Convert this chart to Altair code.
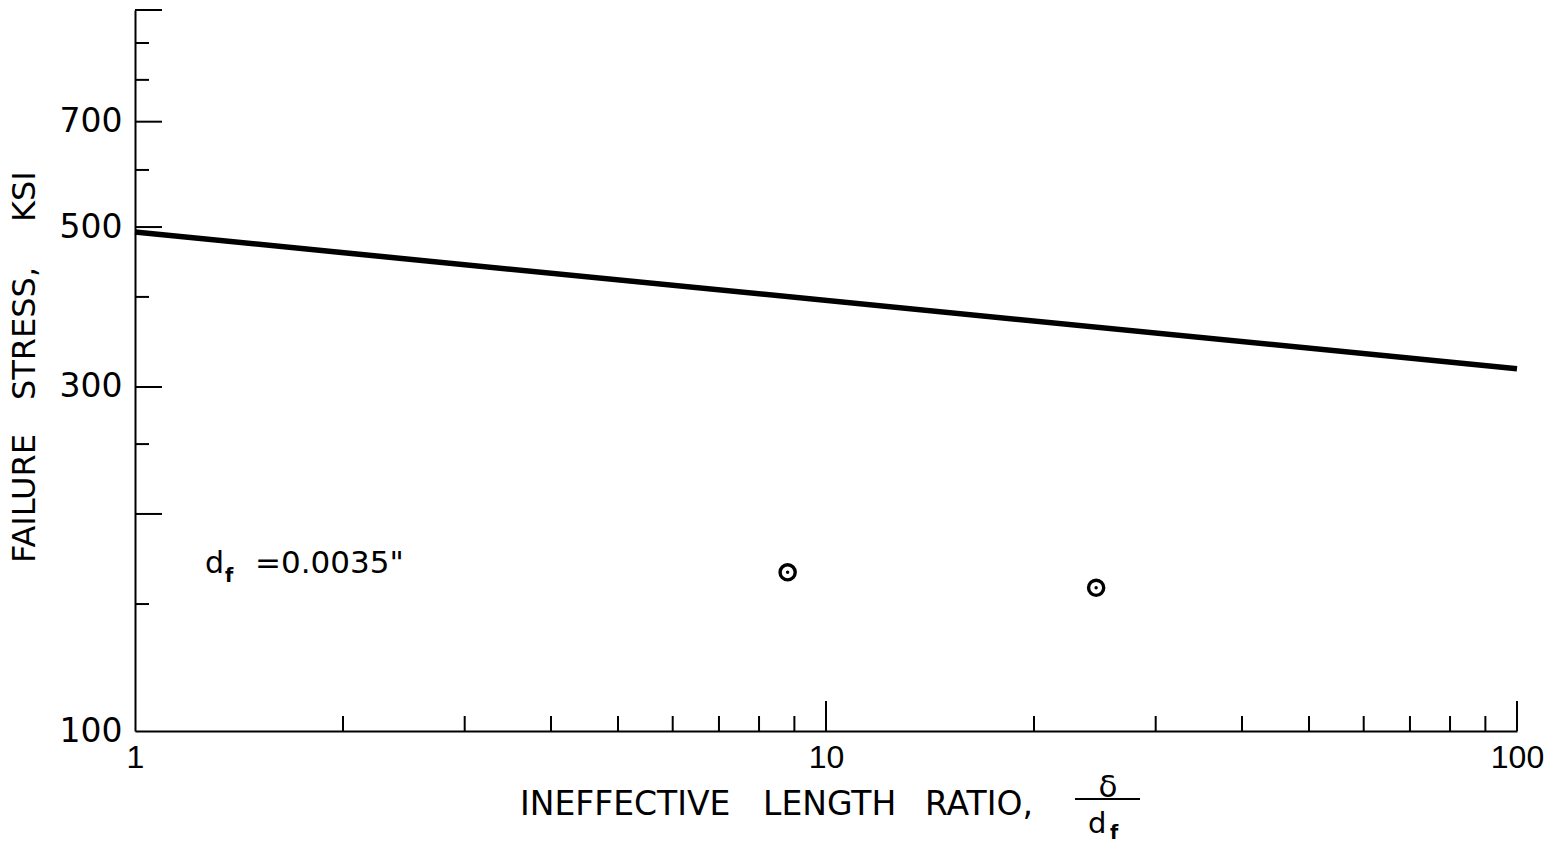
import altair as alt
import pandas as pd

# Failure stress (ksi) curve against ineffective length ratio delta/d_f
LINE_RATIO = [1, 100]
LINE_STRESS = [492, 318]

# Test specimens, d_f = 0.0035 in
POINT_RATIO = [8.8, 24.6]
POINT_STRESS = [166, 158]

# Tick values on the two log axes
X_LABELS = [1, 10, 100]
X_MAJOR_TICKS = [10, 100]
X_MINOR_TICKS = [2, 3, 4, 5, 6, 7, 8, 9, 20, 30, 40, 50, 60, 70, 80, 90]
Y_LABELS = [100, 300, 500, 700]
Y_MAJOR_TICKS = [200, 300, 500, 700, 1000]
Y_MINOR_TICKS = [150, 250, 400, 600, 800, 900]

# Text
X_TITLE_WORDS = ["INEFFECTIVE", "LENGTH", "RATIO,"]
Y_TITLE_WORDS = ["FAILURE", "STRESS,", "KSI"]
FRACTION = ["\u03b4", "d", "f"]
NOTE = ["d", "f", "=0.0035\""]

W, H = 1382, 721
INK = "black"
FONT = "DejaVu Sans"

xscale = alt.Scale(type="log", domain=[1, 100], nice=False)
yscale = alt.Scale(type="log", domain=[100, 1000], nice=False)

x_enc = alt.X(
    "ratio:Q",
    scale=xscale,
    axis=alt.Axis(
        values=X_LABELS, format="d", title=None, grid=False,
        ticks=False, tickSize=0, labelFlush=False,
        domainColor=INK, domainWidth=2,
        labelFont="Liberation Sans", labelFontSize=32,
        labelColor=INK, labelPadding=11,
    ),
)
y_enc = alt.Y(
    "stress:Q",
    scale=yscale,
    axis=alt.Axis(
        values=Y_LABELS, format="d", title=None, grid=False,
        ticks=False, tickSize=0, labelFlush=False,
        domainColor=INK, domainWidth=2,
        labelFont=FONT, labelFontSize=33,
        labelColor=INK, labelPadding=13,
    ),
)

line_df = pd.DataFrame({"ratio": LINE_RATIO, "stress": LINE_STRESS})
pts_df = pd.DataFrame({"ratio": POINT_RATIO, "stress": POINT_STRESS})

curve = alt.Chart(line_df).mark_line(color=INK, strokeWidth=5.5).encode(x=x_enc, y=y_enc)

rings = alt.Chart(pts_df).mark_point(
    shape="circle", filled=False, size=230, strokeWidth=3.4, color=INK, opacity=1
).encode(x=x_enc, y=y_enc)
dots = alt.Chart(pts_df).mark_point(
    shape="circle", filled=True, size=12, color=INK, opacity=1
).encode(x=x_enc, y=y_enc)


# Inward-pointing tick marks drawn as short rules from the axis lines
def x_ticks(values, length):
    df = pd.DataFrame({"ratio": values})
    return alt.Chart(df).mark_rule(color=INK, strokeWidth=2).encode(
        x=x_enc, y=alt.value(H), y2=alt.value(H - length)
    )


def y_ticks(values, length):
    df = pd.DataFrame({"stress": values})
    return alt.Chart(df).mark_rule(color=INK, strokeWidth=2).encode(
        y=y_enc, x=alt.value(0), x2=alt.value(length)
    )


def label(text, px, py, size, angle=0, weight="normal", align="left"):
    df = pd.DataFrame({"t": [text]})
    return alt.Chart(df).mark_text(
        font=FONT, fontSize=size, fontWeight=weight, color=INK,
        align=align, baseline="alphabetic", angle=angle,
    ).encode(text="t:N", x=alt.value(px), y=alt.value(py))


layers = [
    x_ticks(X_MINOR_TICKS, 15),
    x_ticks(X_MAJOR_TICKS, 30),
    y_ticks(Y_MINOR_TICKS, 14),
    y_ticks(Y_MAJOR_TICKS, 27),
    curve,
    rings,
    dots,
]

# x-axis title with the delta / d_f fraction
for word, px in zip(X_TITLE_WORDS, [385, 628, 790]):
    layers.append(label(word, px, 805, 33))
layers.append(label(FRACTION[0], 973, 787, 31, align="center"))
layers.append(
    alt.Chart(pd.DataFrame({"k": [0]})).mark_rule(color=INK, strokeWidth=2).encode(
        x=alt.value(940), x2=alt.value(1005), y=alt.value(789)
    )
)
layers.append(label(FRACTION[1], 953, 823, 29))
layers.append(label(FRACTION[2], 975, 829, 19, weight="bold"))

# y-axis title, reading upward
for word, py in zip(Y_TITLE_WORDS, [553, 390, 212]):
    layers.append(label(word, -100, py, 32, angle=270))

# specimen diameter note
layers.append(label(NOTE[0], 70, 563, 30))
layers.append(label(NOTE[1], 90, 572, 19, weight="bold"))
layers.append(label(NOTE[2], 120, 563, 31))

chart = (
    alt.layer(*layers)
    .properties(
        width=W,
        height=H,
        padding={"left": 135, "top": 10, "right": 40, "bottom": 112},
        autosize=alt.AutoSizeParams(type="none"),
        background="white",
    )
    .configure_view(strokeWidth=0)
)

chart.save("out.html", embed_options={"renderer": "svg", "actions": False})
